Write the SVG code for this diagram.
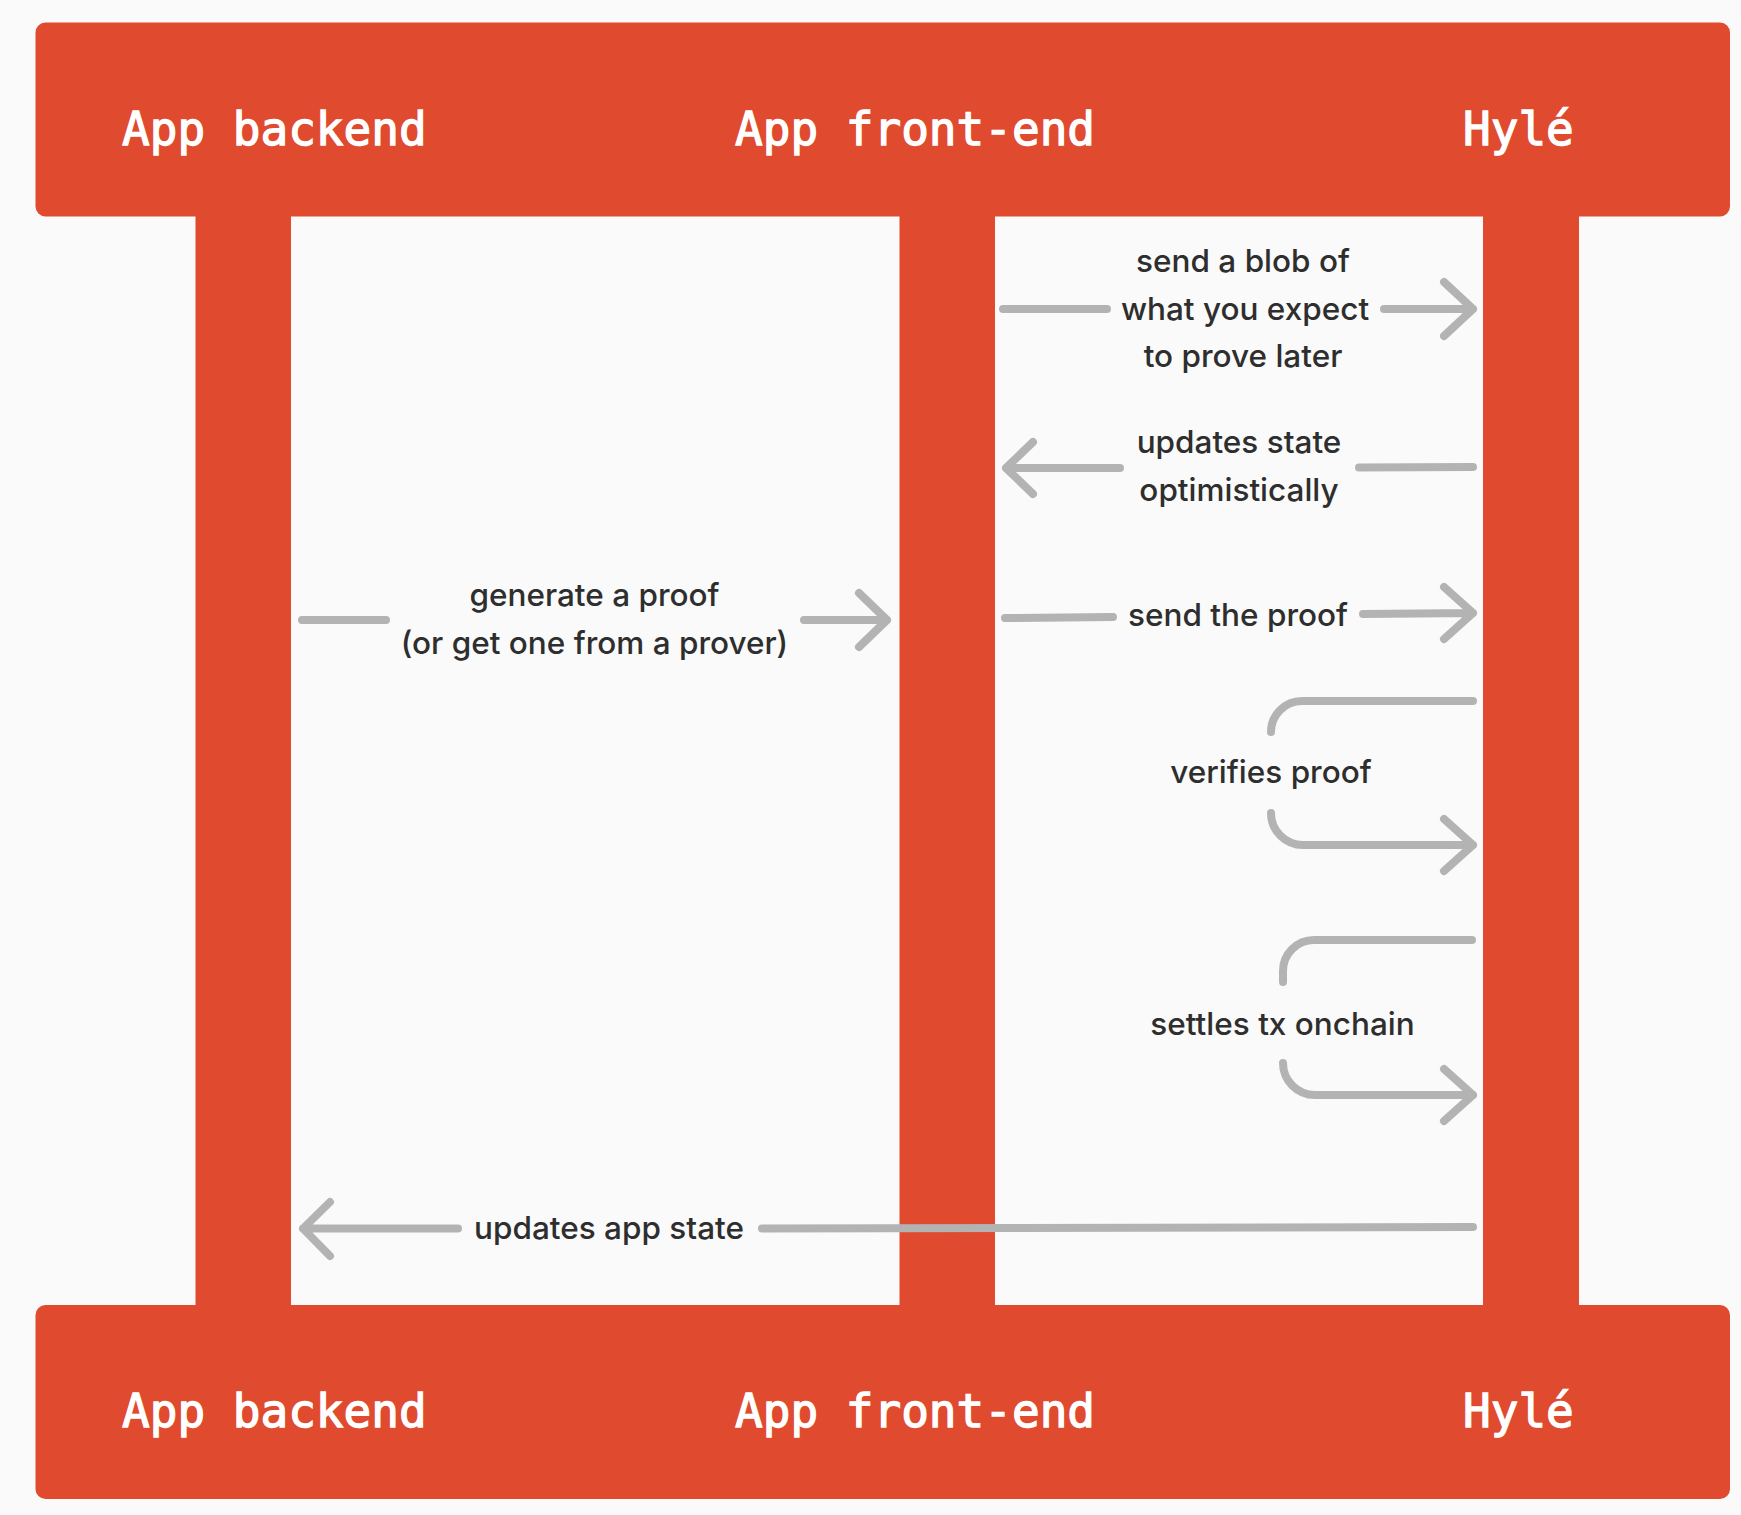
<svg xmlns="http://www.w3.org/2000/svg" width="1741" height="1515" viewBox="0 0 1741 1515">
<defs>
<style>
.bar{fill:#e04a2e}
.life{fill:#e04a2e}
.hdr{font-family:"DejaVu Sans Mono","Liberation Mono",monospace;font-weight:normal;font-size:46px;fill:#ffffff;stroke:#ffffff;stroke-width:1.3px}
.lbl{font-family:Inter,"Noto Sans",sans-serif;font-size:31.5px;font-weight:500;fill:#2e2e2e;text-anchor:middle}
.ln{fill:none;stroke:#b3b3b3;stroke-width:8;stroke-linecap:round;stroke-linejoin:round}
</style>
</defs>
<rect x="0" y="0" width="1741" height="1515" fill="#fafafa"/>
<g id="lifelines">
<rect class="life" x="195.5" y="210" width="95.5" height="1100"/>
<rect class="life" x="899.5" y="210" width="95.5" height="1100"/>
<rect class="life" x="1483" y="210" width="96" height="1100"/>
</g>
<g id="header-top">
<rect class="bar" x="35.5" y="22.5" width="1694.5" height="194" rx="10"/>
<text class="hdr" x="122" y="145">App backend</text>
<text class="hdr" x="735" y="145">App front-end</text>
<text class="hdr" x="1463" y="145">Hylé</text>
</g>
<g id="header-bottom">
<rect class="bar" x="35.5" y="1305" width="1694.5" height="194" rx="10"/>
<text class="hdr" x="122" y="1427">App backend</text>
<text class="hdr" x="735" y="1427">App front-end</text>
<text class="hdr" x="1463" y="1427">Hylé</text>
</g>
<g id="connectors">
<path class="ln" d="M1003,309 H1107 M1384,309 H1473 M1444,282 L1473,309 L1444,336"/>
<path class="ln" d="M1120,468 H1006 M1033,442 L1006,468 L1033,494 M1359,467.5 L1473,467"/>
<path class="ln" d="M302,620 H386 M804,620 H887 M859,593 L887,620 L859,647"/>
<path class="ln" d="M1005,618 L1113,617 M1363,614 L1473,613 M1444,587 L1473,613 L1444,639"/>
<path class="ln" d="M1473,701 H1302 A31,31 0 0 0 1271,732 M1271,813 A32,32 0 0 0 1303,845 H1473 M1444,819 L1473,845 L1444,871"/>
<path class="ln" d="M1472,940 H1314 A31,31 0 0 0 1283,971 V982 M1283,1063 A32,32 0 0 0 1315,1095 H1473 M1444,1069 L1473,1095 L1444,1121"/>
<path class="ln" d="M458,1228.5 H303 M330,1202 L303,1228.5 L330,1256 M762,1228.5 L1473,1227"/>
</g>
<g id="labels">
<text class="lbl" x="1243" y="272">send a blob of</text>
<text class="lbl" x="1245" y="320">what you expect</text>
<text class="lbl" x="1243" y="367">to prove later</text>
<text class="lbl" x="1239" y="453">updates state</text>
<text class="lbl" x="1239" y="501">optimistically</text>
<text class="lbl" x="594.5" y="606">generate a proof</text>
<text class="lbl" x="594.5" y="654">(or get one from a prover)</text>
<text class="lbl" x="1238" y="626">send the proof</text>
<text class="lbl" x="1271" y="783">verifies proof</text>
<text class="lbl" x="1282.5" y="1035">settles tx onchain</text>
<text class="lbl" x="609" y="1239">updates app state</text>
</g>
</svg>
